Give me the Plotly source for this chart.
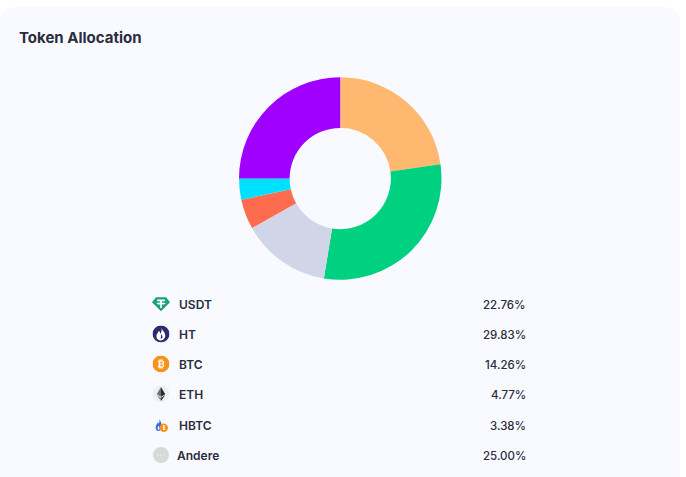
import base64
import plotly.graph_objects as go

tokens = ["USDT", "HT", "BTC", "ETH", "HBTC", "Andere"]
shares = [22.76, 29.83, 14.26, 4.77, 3.38, 25.00]
share_labels = ["22.76%", "29.83%", "14.26%", "4.77%", "3.38%", "25.00%"]
slice_colors = ["#FFB870", "#00D181", "#D0D6E8", "#FF6B4F", "#00E0FF", "#A000FF"]
title_text = "Token Allocation"

W, H = 686, 477
FONT = "Inter, 'Noto Sans', sans-serif"
INK = "#2A2C40"


def px(x):
    return x / W


def py(y):
    return 1 - y / H


def svg_uri(body):
    svg = f'<svg xmlns="http://www.w3.org/2000/svg" viewBox="0 0 32 32" width="64" height="64">{body}</svg>'
    return "data:image/svg+xml;base64," + base64.b64encode(svg.encode()).decode()


icons = {
    "USDT": '<path d="M7 4H25L32 13L16 29L0 13Z" fill="#1BA27A"/>'
            '<path d="M9 8H23V11H17.500V13.500C21 13.700 24 14.300 24 15.300C24 16.300 21 16.900 17.500 17.100V23H14.500V17.100C11 16.900 8 16.300 8 15.300C8 14.300 11 13.700 14.500 13.500V11H9Z" fill="#fff"/>',
    "HT": '<circle cx="16" cy="16" r="16" fill="#2D2A72"/>'
          '<path d="M17 4C18 9 25 13 24 20C23 26 18 28 15 28C9 28 7 23 7.500 19C8 15 11 13 12 10C14 12 14.500 15 14.500 16C16.500 13 18 9 17 4Z" fill="#fff"/>'
          '<path d="M16.500 16C18 19 19.500 20 18.500 23C18 24.500 16 25 15 24.500C16.500 22 15.500 19 16.500 16Z" fill="#2D2A72"/>',
    "BTC": '<circle cx="16" cy="16" r="16" fill="#F7931A"/>'
           '<path d="M13 7H15.500V9.500H17V7H19V9.700C21.500 10.300 22.500 12 22 13.800C21.700 14.900 21 15.500 20 15.800C21.500 16.300 22.500 17.500 22 19.500C21.500 21.500 19.800 22.300 19 22.400V25H17V22.500H15.500V25H13V22.500H10V20.300H11.500V11.700H10V9.500H13ZM14.500 11.800V15H17C18.500 15 19.200 14.300 19.200 13.400C19.200 12.500 18.500 11.800 17 11.800ZM14.500 17V20.300H17.500C19 20.300 19.600 19.600 19.600 18.700C19.600 17.700 19 17 17.500 17Z" fill="#fff"/>',
    "ETH": '<circle cx="16" cy="16" r="16" fill="#EDF0F4"/>'
           '<path d="M16 3L8 16.500L16 21Z" fill="#6F6F6F"/><path d="M16 3L24 16.500L16 21Z" fill="#2A2A2A"/>'
           '<path d="M8 18L16 29V23Z" fill="#8A8A8A"/><path d="M24 18L16 29V23Z" fill="#333"/>',
    "HBTC": '<path d="M13 3C14 9 18 11 17 19C16.500 25 14 28 10.500 28C7 28 4.500 24 5.500 19C6.500 14.500 9 14 10 10C11 11.500 11.500 12.500 11.500 14C13 11 13.500 7 13 3Z" fill="#2A6BF0"/>'
            '<path d="M11 17C13 20 13.500 23 12 26C9.500 26 8.500 23.500 9.500 21C10 19.800 10.800 18.800 11 17Z" fill="#FFFFFF"/>'
            '<circle cx="21.500" cy="21.500" r="8.500" fill="#F7931A"/>'
            '<path d="M20 16.500H22.500C24.500 16.500 24.500 20.500 23 21C25 21.500 25 26 22.500 26H20ZM21.500 18V20.500H22.300C23 20.500 23 18 22.300 18ZM21.500 22V24.500H22.500C23.300 24.500 23.300 22 22.500 22Z" fill="#fff"/>',
    "Andere": '<circle cx="16" cy="16" r="16" fill="#D8DAD9"/>'
              '<circle cx="9.500" cy="16" r="1.500" fill="#F4F4F4"/><circle cx="16" cy="16" r="1.500" fill="#F4F4F4"/><circle cx="22.500" cy="16" r="1.500" fill="#F4F4F4"/>',
}

row_y = [304, 334, 364, 394, 425, 455]
label_x = [179, 179, 179, 179, 179, 177]
icon_size = [18, 17, 17, 17, 16, 16]

fig = go.Figure(go.Pie(
    labels=tokens,
    values=shares,
    sort=False,
    direction="clockwise",
    rotation=0,
    hole=0.5,
    textinfo="none",
    hoverinfo="label+percent",
    showlegend=False,
    marker=dict(colors=slice_colors, line=dict(width=0)),
    domain=dict(x=[px(239), px(441.5)], y=[py(280), py(77)]),
))

# card behind the chart
card = "M 0 {b} L 0 {t2} Q 0 {t} {r0} {t} L {r1} {t} Q {r} {t} {r} {t2} L {r} {b} Z".format(
    b=py(490), t2=py(23), t=py(7), r0=px(16), r1=px(664), r=px(680))
fig.add_shape(type="path", path=card, xref="paper", yref="paper",
              fillcolor="#F9FAFF", line=dict(width=0), layer="below")

fig.add_annotation(x=px(19), y=py(37.5), xref="paper", yref="paper", text=title_text,
                   showarrow=False, xanchor="left", yanchor="middle", xshift=-2,
                   font=dict(family=FONT, size=15, color=INK, weight=700))

images = []
for tok, lab, y, lx, sz in zip(tokens, share_labels, row_y, label_x, icon_size):
    fig.add_annotation(x=px(lx), y=py(y), xref="paper", yref="paper", text=tok,
                       showarrow=False, xanchor="left", yanchor="middle", xshift=-2,
                       font=dict(family=FONT, size=12, color=INK, weight=600))
    fig.add_annotation(x=px(525), y=py(y), xref="paper", yref="paper", text=lab,
                       showarrow=False, xanchor="right", yanchor="middle", xshift=3, yshift=-1,
                       font=dict(family=FONT, size=11.5, color=INK, weight=500))
    images.append(dict(source=svg_uri(icons[tok]), xref="paper", yref="paper",
                       x=px(161), y=py(y), sizex=sz / W, sizey=sz / H,
                       xanchor="center", yanchor="middle", layer="above"))

fig.update_layout(width=W, height=H, margin=dict(l=0, r=0, t=0, b=0, autoexpand=False),
                  paper_bgcolor="#FFFFFF", plot_bgcolor="#FFFFFF", images=images)

fig.write_html("out.html", config=dict(displayModeBar=False),
               post_script="document.body.style.margin='0';")
